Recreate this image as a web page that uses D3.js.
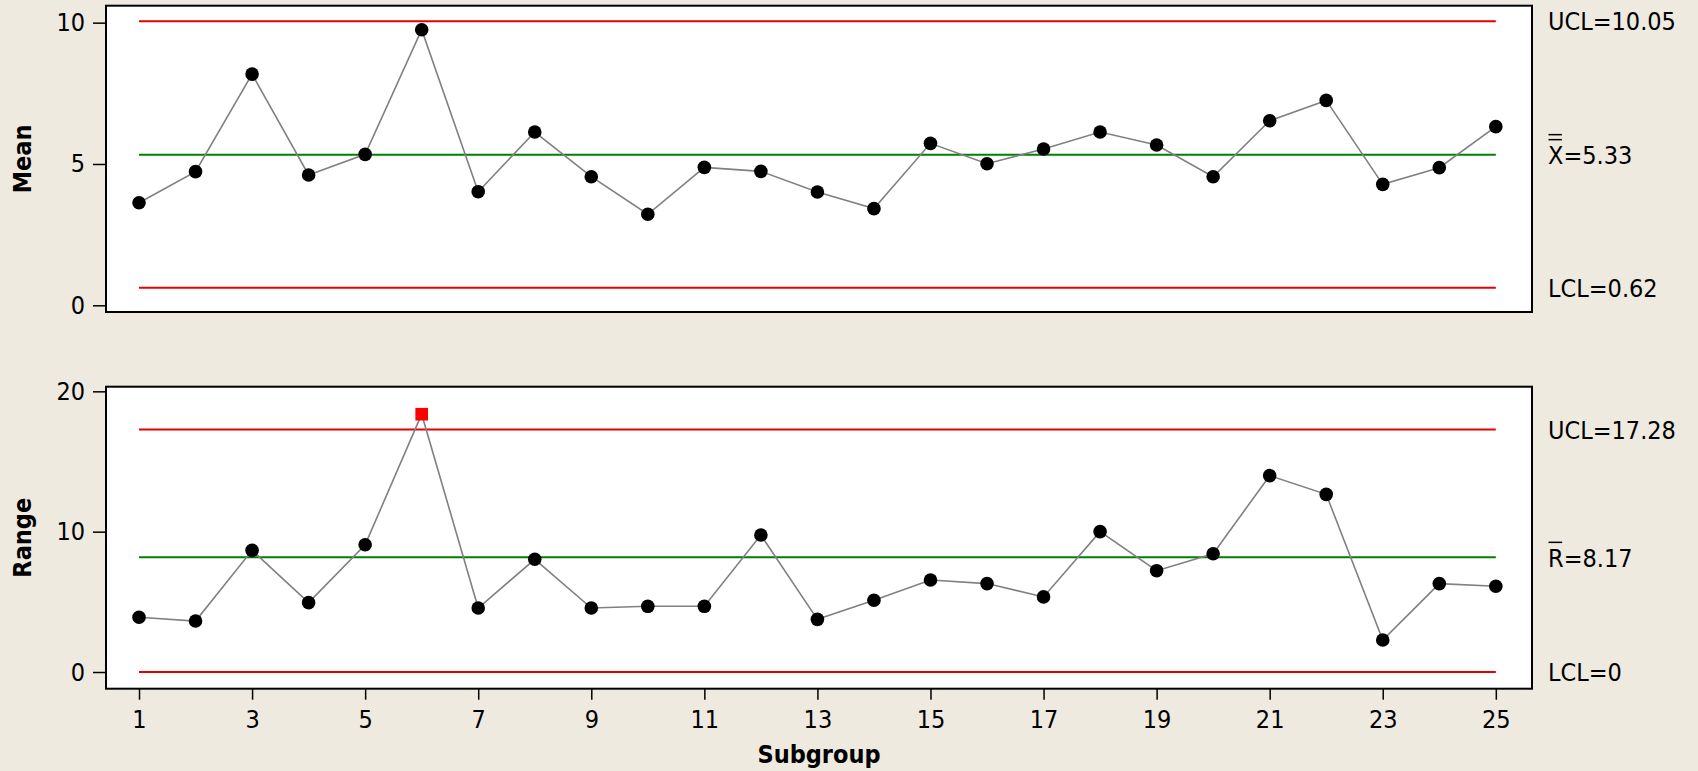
<!DOCTYPE html>
<html>
<head>
<meta charset="utf-8">
<script src="https://cdn.jsdelivr.net/npm/d3@7"></script>
<style>
  body { margin: 0; background: #eeeae0; }
  svg { display: block; }
  text { font-family: "DejaVu Sans Condensed", "DejaVu Sans", sans-serif; fill: #000; }
</style>
</head>
<body>
<div id="chart"></div>
<script>
// subgroup numbers
var subgroups = [1, 2, 3, 4, 5, 6, 7, 8, 9, 10, 11, 12, 13, 14, 15, 16, 17, 18, 19, 20, 21, 22, 23, 24, 25]

// subgroup means
var meanValues = [3.63, 4.73, 8.18, 4.61, 5.34, 9.75, 4.02, 6.13, 4.55, 3.22, 4.88, 4.74, 4.01,
    3.42, 5.73, 5.01, 5.53, 6.13, 5.67, 4.55, 6.53, 7.25, 4.28, 4.87, 6.32]

// subgroup ranges
var rangeValues = [3.90, 3.63, 8.67, 4.94, 9.07, 18.37, 4.56, 8.03, 4.56, 4.68, 4.68, 9.76, 3.75,
    5.11, 6.56, 6.30, 5.35, 10.0, 7.22, 8.43, 13.99, 12.66, 2.28, 6.30, 6.11]

// control limits: ucl, center, lcl
var meanLimits = [10.05, 5.33, 0.62]
var rangeLimits = [17.28, 8.17, 0]

// limit labels
var meanLabels = ['UCL=10.05', 'X=5.33', 'LCL=0.62']
var rangeLabels = ['UCL=17.28', 'R=8.17', 'LCL=0']

// tick values
var xTicks = [1, 3, 5, 7, 9, 11, 13, 15, 17, 19, 21, 23, 25]
var meanTicks = [0, 5, 10]
var rangeTicks = [0, 10, 20]

var width = 1698
var height = 771
var fontSize = 25
var font = '"DejaVu Sans Condensed", "DejaVu Sans", sans-serif'

var svg = d3.select('#chart')
    .append('svg')
    .attr('width', width)
    .attr('height', height)
    .style('background', '#eeeae0')

// x scale shared by both panels
var x = d3.scaleLinear()
    .domain([0.416, 25.64])
    .range([106, 1532])

var panels = [
    { title: 'Mean', values: meanValues, limits: meanLimits, labels: meanLabels, ticks: meanTicks,
      domain: [-0.237, 10.6], top: 5.7, bottom: 312, bars: 2, xAxis: false },
    { title: 'Range', values: rangeValues, limits: rangeLimits, labels: rangeLabels, ticks: rangeTicks,
      domain: [-1.19, 20.33], top: 386.7, bottom: 688.7, bars: 1, xAxis: true }
]

panels.forEach(function (p) { drawPanel(p) })

function drawPanel(p) {
    var y = d3.scaleLinear()
        .domain(p.domain)
        .range([p.bottom, p.top])

    var g = svg.append('g')

    // white plot area
    g.append('rect')
        .attr('x', x.range()[0])
        .attr('y', p.top)
        .attr('width', x.range()[1] - x.range()[0])
        .attr('height', p.bottom - p.top)
        .style('fill', '#fff')

    // y axis
    var gy = g.append('g')
        .attr('transform', 'translate(' + x.range()[0] + ',0)')
        .call(d3.axisLeft(y).tickValues(p.ticks).tickSize(13).tickPadding(8).tickFormat(d3.format('d')))
    gy.select('.domain').remove()
    gy.selectAll('line').style('stroke', '#000').style('stroke-width', 1.5)
    gy.selectAll('text')
        .style('font-size', fontSize + 'px')
        .style('font-family', font)

    // x axis only under the range chart
    if (p.xAxis) {
        var gx = g.append('g')
            .attr('transform', 'translate(0,' + p.bottom + ')')
            .call(d3.axisBottom(x).tickValues(xTicks).tickSize(11).tickPadding(11).tickFormat(d3.format('d')))
        gx.select('.domain').remove()
        gx.selectAll('line').style('stroke', '#000').style('stroke-width', 1.5)
        gx.selectAll('text')
            .style('font-size', fontSize + 'px')
            .style('font-family', font)

        svg.append('text')
            .attr('x', (x.range()[0] + x.range()[1]) / 2)
            .attr('y', 763)
            .style('text-anchor', 'middle')
            .style('font-size', fontSize + 'px')
            .style('font-weight', 'bold')
            .text('Subgroup')
    }

    // axis title
    svg.append('text')
        .attr('transform', 'translate(31,' + ((p.top + p.bottom) / 2) + ') rotate(-90)')
        .style('text-anchor', 'middle')
        .style('font-size', fontSize + 'px')
        .style('font-weight', 'bold')
        .text(p.title)

    // control limit lines
    g.selectAll('.limit')
        .data(p.limits)
        .enter()
        .append('line')
        .attr('class', 'limit')
        .attr('x1', x(subgroups[0]))
        .attr('x2', x(subgroups[subgroups.length - 1]))
        .attr('y1', function (d) { return y(d) })
        .attr('y2', function (d) { return y(d) })
        .style('stroke', function (d, i) { return i === 1 ? '#008000' : '#e60000' })
        .style('stroke-width', 2)

    // connecting line
    var line = d3.line()
        .x(function (d, i) { return x(subgroups[i]) })
        .y(function (d) { return y(d) })
    g.append('path')
        .datum(p.values)
        .attr('d', line)
        .style('fill', 'none')
        .style('stroke', '#808080')
        .style('stroke-width', 1.6)

    // points inside the limits
    var ucl = p.limits[0]
    var lcl = p.limits[2]
    var pts = p.values.map(function (v, i) { return { s: subgroups[i], v: v } })
    g.selectAll('.dot')
        .data(pts.filter(function (d) { return d.v <= ucl && d.v >= lcl }))
        .enter()
        .append('circle')
        .attr('class', 'dot')
        .attr('cx', function (d) { return x(d.s) })
        .attr('cy', function (d) { return y(d.v) })
        .attr('r', 6.8)
        .style('fill', '#000')

    // out of control points
    g.selectAll('.out')
        .data(pts.filter(function (d) { return d.v > ucl || d.v < lcl }))
        .enter()
        .append('rect')
        .attr('class', 'out')
        .attr('x', function (d) { return x(d.s) - 6.3 })
        .attr('y', function (d) { return y(d.v) - 6.3 })
        .attr('width', 12.6)
        .attr('height', 12.6)
        .style('fill', '#ff0000')

    // frame
    g.append('rect')
        .attr('x', x.range()[0])
        .attr('y', p.top)
        .attr('width', x.range()[1] - x.range()[0])
        .attr('height', p.bottom - p.top)
        .style('fill', 'none')
        .style('stroke', '#000')
        .style('stroke-width', 2)

    // limit labels on the right
    var labels = svg.selectAll(null)
        .data(p.limits)
        .enter()
        .append('text')
        .attr('x', 1548)
        .attr('y', function (d) { return y(d) })
        .attr('dy', '0.37em')
        .style('font-size', fontSize + 'px')
        .text(function (d, i) { return p.labels[i] })

    // bars over the center line symbol
    var center = labels.filter(function (d, i) { return i === 1 })
    var w = center.node().getSubStringLength(0, 1)
    var capTop = y(p.limits[1]) + 0.37 * fontSize - 0.73 * fontSize
    for (var b = 0; b < p.bars; b++) {
        svg.append('line')
            .attr('x1', 1548.5)
            .attr('x2', 1548 + w - 1.5)
            .attr('y1', capTop - 6 - b * 5)
            .attr('y2', capTop - 6 - b * 5)
            .style('stroke', '#000')
            .style('stroke-width', 1.5)
    }
}
</script>
</body>
</html>
